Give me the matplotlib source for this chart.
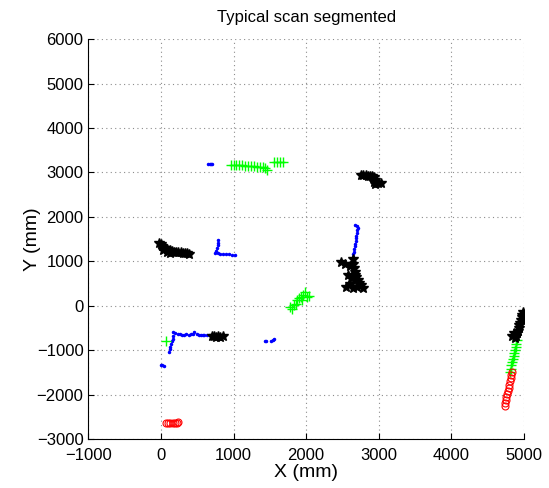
import numpy as np
import matplotlib
matplotlib.use('Agg')
import matplotlib.pyplot as plt

plt.rcParams['font.family'] = ['Liberation Sans', 'DejaVu Sans']

# Segment points (mm)
blue_x = [650, 670, 690, 710,
          790, 785, 780, 770, 760, 750, 780, 820, 860, 900, 940, 980, 1020,
          2670, 2700, 2710, 2705, 2700, 2695, 2690, 2685, 2680, 2675, 2665, 2655, 2645, 2640,
          110, 120, 130, 140, 150, 160, 165, 170, 200, 230, 260, 290, 320, 350, 380, 410,
          440, 460, 490, 520, 550, 580, 600, 640,
          1430, 1450, 1520, 1550, 1560,
          0, 20, 40]
blue_y = [3200, 3200, 3190, 3185,
          1480, 1420, 1360, 1300, 1240, 1180, 1180, 1175, 1170, 1165, 1160, 1150, 1140,
          1820, 1800, 1760, 1700, 1640, 1580, 1520, 1460, 1400, 1340, 1280, 1220, 1160, 1100,
          -1050, -980, -920, -860, -800, -740, -680, -600, -620, -640, -640, -650, -650, -640, -650, -640,
          -630, -600, -640, -650, -650, -650, -660, -650,
          -790, -790, -800, -780, -750,
          -1330, -1340, -1360]

green_x = [960, 1000, 1040, 1080, 1120, 1160, 1200, 1240, 1280, 1320, 1360, 1400, 1440, 1460,
           1560, 1600, 1640, 1680,
           70,
           1780, 1810, 1830, 1860, 1880, 1900, 1930, 1960, 1990, 2010, 2040, 1950,
           4910, 4900, 4890, 4880, 4870, 4860, 4850, 4840, 4830, 4820, 4810]
green_y = [3170, 3170, 3165, 3160, 3160, 3155, 3150, 3145, 3140, 3130, 3125, 3120, 3110, 3060,
           3230, 3235, 3240, 3240,
           -790,
           -30, -80, 20, 50, 120, 180, 200, 250, 300, 200, 230, 120,
           -780, -850, -920, -990, -1060, -1130, -1200, -1270, -1340, -1410, -1480]

black_x = [2760, 2790, 2820, 2850, 2880, 2910, 2940, 2950, 2940, 2950, 2990, 3030,
           -20, 0, 20, 40, 60, 90, 120, 150, 180, 210, 240, 270, 300, 330, 360, 380, 30, 80, 130,
           2480, 2540, 2600, 2640, 2650, 2660, 2670, 2680, 2690, 2710, 2730, 2760, 2790,
           2550, 2600, 2650, 2700, 2620, 2580,
           700, 730, 760, 790, 820, 850,
           4990, 4980, 4970, 4960, 4950, 4940, 4930, 4920, 4910, 4900, 4860, 4840, 4880]
black_y = [2940, 2950, 2940, 2930, 2920, 2910, 2890, 2840, 2790, 2740, 2760, 2770,
           1420, 1380, 1340, 1310, 1290, 1270, 1250, 1230, 1220, 1210, 1210, 1200, 1195, 1190, 1180, 1170, 1250, 1200, 1180,
           990, 950, 900, 1050, 950, 850, 760, 700, 640, 580, 520, 470, 410,
           420, 480, 400, 420, 620, 700,
           -690, -680, -700, -690, -710, -690,
           -140, -200, -260, -320, -380, -440, -500, -560, -620, -680, -620, -680, -720]

red_x = [70, 100, 130, 160, 190, 220, 240,
         4840, 4830, 4820, 4810, 4800, 4790, 4780, 4770, 4760, 4750, 4740, 4735]
red_y = [-2630, -2630, -2630, -2630, -2630, -2630, -2620,
         -1490, -1560, -1630, -1700, -1770, -1840, -1910, -1980, -2050, -2120, -2190, -2250]

fig = plt.figure(figsize=(5.49, 4.88), dpi=100)
ax = fig.add_axes([0.161, 0.100, 0.793, 0.820])

ax.plot(blue_x, blue_y, '.', color='b', markersize=3)
ax.plot(green_x, green_y, '+', color=(0, 1, 0), markersize=7, markeredgewidth=1)
ax.plot(black_x, black_y, '*', color='k', markersize=7)
ax.plot(red_x, red_y, 'o', color='r', markersize=5, markerfacecolor='none', markeredgewidth=0.8)

ax.set_xlim(-1000, 5000)
ax.set_ylim(-3000, 6000)
ax.set_xticks(np.arange(-1000, 5001, 1000))
ax.set_yticks(np.arange(-3000, 6001, 1000))
ax.grid(True, linestyle=(0, (1, 3)), color='0.55', linewidth=0.8)
ax.spines['top'].set_visible(False)
ax.spines['right'].set_visible(False)
ax.tick_params(direction='in', length=4, labelsize=12, top=False, right=False)
ax.tick_params(axis='x', pad=6)

ax.set_title('Typical scan segmented', fontsize=12, pad=12)
ax.set_xlabel('X (mm)', fontsize=14, labelpad=1)
ax.set_ylabel('Y (mm)', fontsize=14, labelpad=-3)

fig.savefig('out.png', dpi=100)
